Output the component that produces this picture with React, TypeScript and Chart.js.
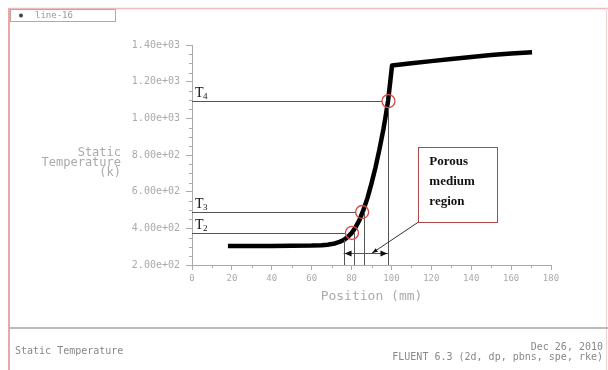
import React, { useEffect, useRef } from "react";
import { Chart, registerables } from "chart.js";

Chart.register(...registerables);

// ---- data ----
const positions = [18, 40, 60, 65, 68, 70, 72, 74, 76, 78, 80, 82, 84, 86, 88, 90, 92, 94, 96, 97, 98.3, 99.3, 100.3, 110, 120, 130, 140, 150, 160, 170.5];
const temperatures = [304, 304, 306, 308, 311, 314, 319, 326, 336, 352, 374, 405, 446, 502, 566, 645, 732, 832, 942, 1005, 1094, 1190, 1288, 1300, 1312, 1324, 1335, 1345, 1354, 1361];
const xTickValues = [0, 20, 40, 60, 80, 100, 120, 140, 160, 180];
const yTickValues = [200, 400, 600, 800, 1000, 1200, 1400];
const markerLabels = ["2", "3", "4"];
const markerX = [80.2, 85.3, 98.5];
const markerT = [375, 489, 1094];
const regionX = [76, 98.5];
const dimensionT = 265;
const leaderEnd = [90.3, 265];
const boxX = [113.5, 153];
const boxT = [843, 434];
const boxLines = ["Porous", "medium", "region"];
const yTitleLines = ["Static", "Temperature", "(k)"];
const legendLabel = "line-16";
const footerLeft = "Static Temperature";
const footerRight = ["Dec 26, 2010", "FLUENT 6.3 (2d, dp, pbns, spe, rke)"];

const MONO = "'DejaVu Sans Mono', monospace";
const SERIF = "'Liberation Serif', 'DejaVu Serif', serif";

const fmtExp = (v: number) => {
  const [m, e] = v.toExponential(2).split("e");
  const n = parseInt(e, 10);
  return m + "e" + (n < 0 ? "-" : "+") + String(Math.abs(n)).padStart(2, "0");
};

const decorPlugin = {
  id: "decor",
  afterDraw(chart: any) {
    const ctx = chart.ctx as CanvasRenderingContext2D;
    const xs = chart.scales.x;
    const ys = chart.scales.y;
    const px = (v: number) => xs.getPixelForValue(v);
    const py = (v: number) => ys.getPixelForValue(v);
    const ca = chart.chartArea;
    ctx.save();

    // outer frame
    ctx.strokeStyle = "#e8a8a8";
    ctx.lineWidth = 2;
    ctx.beginPath();
    ctx.moveTo(9, 8);
    ctx.lineTo(9, 370);
    ctx.stroke();
    ctx.lineWidth = 1.5;
    ctx.strokeStyle = "#ecbcbc";
    ctx.beginPath();
    ctx.moveTo(9, 8.5);
    ctx.lineTo(608, 8.5);
    ctx.stroke();
    ctx.strokeStyle = "#f0d4d4";
    ctx.lineWidth = 1;
    ctx.beginPath();
    ctx.moveTo(606.5, 8);
    ctx.lineTo(606.5, 370);
    ctx.stroke();

    // legend box
    ctx.strokeStyle = "#c8a0a0";
    ctx.lineWidth = 1;
    ctx.strokeRect(10.5, 9.5, 105, 12);
    ctx.fillStyle = "#444";
    ctx.beginPath();
    ctx.arc(21, 15.5, 2, 0, Math.PI * 2);
    ctx.fill();
    ctx.fillStyle = "#999";
    ctx.font = "9px " + MONO;
    ctx.textAlign = "left";
    ctx.textBaseline = "middle";
    ctx.fillText(legendLabel, 35, 15.5);

    // y-axis title (horizontal, right aligned)
    ctx.fillStyle = "#aaa";
    ctx.font = "12px " + MONO;
    ctx.textAlign = "right";
    yTitleLines.forEach((t, i) => ctx.fillText(t, 121, 153 + i * 10));

    // minor ticks
    ctx.strokeStyle = "#aaa";
    ctx.lineWidth = 1;
    for (let v = 250; v < 1400; v += 50) {
      if (v % 200 === 0) continue;
      const y = Math.round(py(v)) + 0.5;
      ctx.beginPath();
      ctx.moveTo(ca.left - 3, y);
      ctx.lineTo(ca.left, y);
      ctx.stroke();
    }
    for (let v = 10; v < 180; v += 20) {
      const x = Math.round(px(v)) + 0.5;
      ctx.beginPath();
      ctx.moveTo(x, ca.bottom);
      ctx.lineTo(x, ca.bottom + 3);
      ctx.stroke();
    }

    // footer
    ctx.strokeStyle = "#bbb";
    ctx.lineWidth = 2;
    ctx.beginPath();
    ctx.moveTo(10, 328);
    ctx.lineTo(608, 328);
    ctx.stroke();
    ctx.fillStyle = "#888";
    ctx.font = "10px " + MONO;
    ctx.textAlign = "left";
    ctx.fillText(footerLeft, 15, 351);
    ctx.textAlign = "right";
    ctx.fillText(footerRight[0], 603, 347);
    ctx.fillText(footerRight[1], 603, 357);

    // annotation lines
    ctx.strokeStyle = "#555";
    ctx.lineWidth = 1;
    markerX.forEach((mx, i) => {
      const y = Math.round(py(markerT[i])) + 0.5;
      ctx.beginPath();
      ctx.moveTo(ca.left, y);
      ctx.lineTo(px(mx) - 6, y);
      ctx.stroke();
      const x = Math.round(px(mx) + (i < 2 ? 2 : 0)) + 0.5;
      ctx.beginPath();
      ctx.moveTo(x, py(markerT[i]) + (i < 2 ? 0 : 6));
      ctx.lineTo(x, ca.bottom);
      ctx.stroke();
    });
    // region start vertical
    {
      const x = Math.round(px(regionX[0])) + 0.5;
      ctx.beginPath();
      ctx.moveTo(x, py(336));
      ctx.lineTo(x, ca.bottom);
      ctx.stroke();
    }
    // dimension line with arrows
    const dy = Math.round(py(dimensionT)) + 0.5;
    const dx0 = px(regionX[0]);
    const dx1 = px(regionX[1]);
    ctx.beginPath();
    ctx.moveTo(dx0, dy);
    ctx.lineTo(dx1, dy);
    ctx.stroke();
    ctx.fillStyle = "#111";
    const arrow = (x: number, dir: number, len = 7, w = 3) => {
      ctx.beginPath();
      ctx.moveTo(x, dy);
      ctx.lineTo(x - dir * len, dy - w);
      ctx.lineTo(x - dir * len, dy + w);
      ctx.closePath();
      ctx.fill();
    };
    arrow(dx0 + 1, -1);
    arrow(dx1 - 1, 1);
    // leader line
    const lx0 = px(boxX[0]);
    const ly0 = py(boxT[1]);
    const lx1 = px(leaderEnd[0]);
    const ly1 = py(leaderEnd[1]);
    ctx.strokeStyle = "#333";
    ctx.beginPath();
    ctx.moveTo(lx0, ly0);
    ctx.lineTo(lx1, ly1);
    ctx.stroke();
    {
      const ang = Math.atan2(ly1 - ly0, lx1 - lx0);
      ctx.beginPath();
      ctx.moveTo(lx1, ly1);
      ctx.lineTo(lx1 - 6 * Math.cos(ang - 0.35), ly1 - 6 * Math.sin(ang - 0.35));
      ctx.lineTo(lx1 - 6 * Math.cos(ang + 0.35), ly1 - 6 * Math.sin(ang + 0.35));
      ctx.closePath();
      ctx.fill();
    }

    // porous box
    const bx = px(boxX[0]);
    const bw = px(boxX[1]) - bx;
    const by = py(boxT[0]);
    const bh = py(boxT[1]) - by;
    ctx.fillStyle = "#fff";
    ctx.fillRect(bx, by, bw, bh);
    ctx.strokeStyle = "#b04848";
    ctx.lineWidth = 1;
    ctx.strokeRect(Math.round(bx) + 0.5, Math.round(by) + 0.5, Math.round(bw), Math.round(bh));
    ctx.fillStyle = "#111";
    ctx.font = "600 13px " + SERIF;
    ctx.textAlign = "left";
    ctx.textBaseline = "middle";
    boxLines.forEach((t, i) => ctx.fillText(t, bx + 11, by + 15 + i * 20));

    // T labels
    markerT.forEach((t, i) => {
      const y = py(t);
      ctx.fillStyle = "#111";
      ctx.font = "14px " + SERIF;
      ctx.textBaseline = "alphabetic";
      ctx.textAlign = "left";
      ctx.fillText("T", ca.left + 3, y - 4);
      ctx.font = "9px " + SERIF;
      ctx.fillText(markerLabels[i], ca.left + 11, y - 2);
    });

    // red circles
    ctx.strokeStyle = "#d84848";
    ctx.lineWidth = 1.3;
    markerX.forEach((mx, i) => {
      ctx.beginPath();
      ctx.arc(px(mx), py(markerT[i]), 6.5, 0, Math.PI * 2);
      ctx.stroke();
    });

    ctx.restore();
  },
};

export default function App() {
  const ref = useRef<HTMLCanvasElement | null>(null);
  useEffect(() => {
    if (!ref.current) return;
    const chart = new Chart(ref.current, {
      type: "line",
      data: {
        datasets: [
          {
            label: legendLabel,
            data: positions.map((x, i) => ({ x, y: temperatures[i] })),
            borderColor: "#000",
            borderWidth: 4.5,
            borderJoinStyle: "round",
            pointRadius: 0,
            tension: 0,
            fill: false,
          },
        ],
      },
      options: {
        animation: false,
        responsive: false,
        devicePixelRatio: 1,
        layout: { padding: { left: 0, right: 57, top: 45, bottom: 45 } },
        plugins: {
          legend: { display: false },
          tooltip: { enabled: false },
        },
        scales: {
          x: {
            type: "linear",
            min: 0,
            max: 180,
            afterFit: (s: any) => {
              s.height = 60;
            },
            afterBuildTicks: (s: any) => {
              s.ticks = xTickValues.map((v) => ({ value: v }));
            },
            ticks: {
              color: "#aaa",
              font: { family: MONO, size: 9 },
              padding: 3,
              maxRotation: 0,
            },
            grid: { drawOnChartArea: false, drawTicks: true, tickLength: 5, color: "#aaa" },
            border: { display: true, color: "#aaa" },
            title: {
              display: true,
              text: "Position (mm)",
              color: "#aaa",
              font: { family: MONO, size: 13 },
              padding: { top: 0, bottom: 21 },
            },
          },
          y: {
            type: "linear",
            min: 200,
            max: 1400,
            afterFit: (s: any) => {
              s.width = 192;
            },
            afterBuildTicks: (s: any) => {
              s.ticks = yTickValues.map((v) => ({ value: v }));
            },
            ticks: {
              color: "#aaa",
              font: { family: MONO, size: 10 },
              padding: 6,
              callback: (v: any) => fmtExp(Number(v)),
            },
            grid: { drawOnChartArea: false, drawTicks: true, tickLength: 6, color: "#aaa" },
            border: { display: true, color: "#aaa" },
          },
        },
      },
      plugins: [decorPlugin],
    });
    return () => chart.destroy();
  }, []);
  return (
    <div style={{ position: "fixed", left: 0, top: 0, width: 608, height: 370, background: "#fff" }}>
      <canvas ref={ref} width={608} height={370} />
    </div>
  );
}
